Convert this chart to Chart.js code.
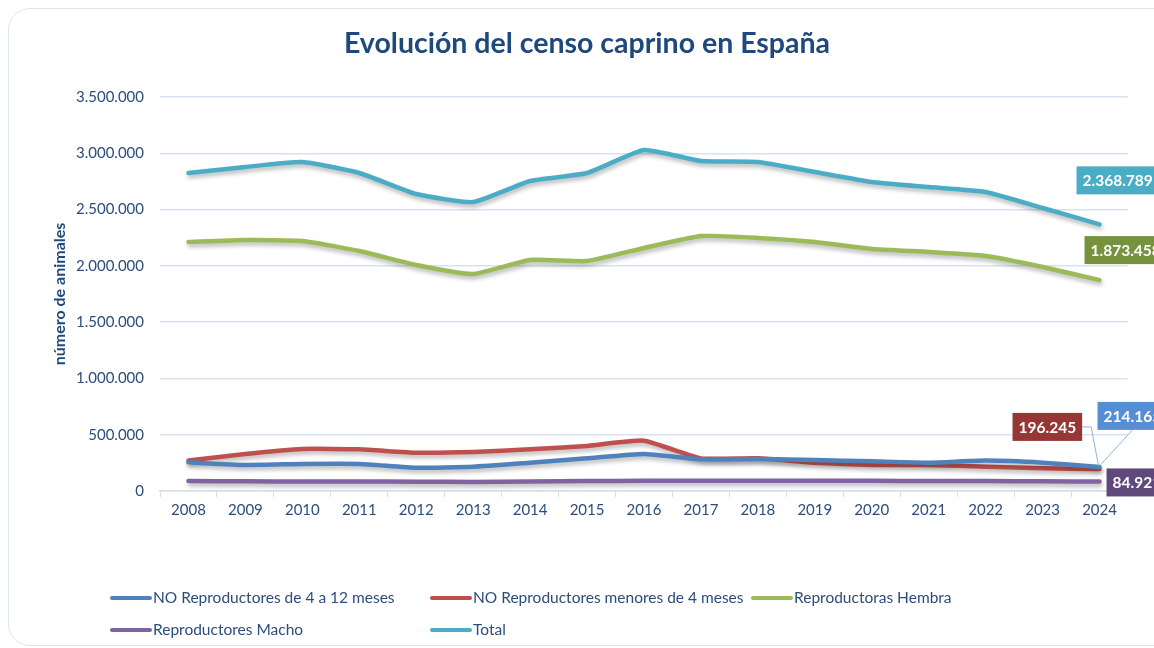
<!DOCTYPE html>
<html>
<head>
<meta charset="utf-8">
<script src="https://cdn.jsdelivr.net/npm/chart.js@4.4.1/dist/chart.umd.min.js"></script>
<style>
  html, body { margin:0; padding:0; background:#fff; overflow:hidden; }
  #wrap { position:relative; width:1154px; height:648px; }
  #card { position:absolute; left:8px; top:8px; width:1170px; height:638px; border:1.5px solid #DCE6F2; border-radius:22px; box-sizing:border-box; }
  canvas { position:absolute; left:0; top:0; }
  .lg { position:absolute; font-family:Lato, "Liberation Sans", sans-serif; font-size:15.5px; color:#2C4D7C; white-space:nowrap; line-height:18px; }
  .lg i { display:inline-block; width:42px; height:4px; border-radius:2px; vertical-align:middle; margin-right:1px; position:relative; top:-1px; }
</style>
</head>
<body>
<div id="wrap">
  <div id="card"></div>
  <canvas id="c" width="1154" height="648"></canvas>
  <div id="legend"></div>
</div>
<script>
const years = ['2008','2009','2010','2011','2012','2013','2014','2015','2016','2017','2018','2019','2020','2021','2022','2023','2024'];
const noRep4a12 = [255000,231000,240000,240000,207000,216000,252000,290000,329000,281000,284000,275000,264000,252000,270000,252000,214165];
const noRepMenores4 = [270000,329000,373000,370000,340000,346000,370000,400000,447000,290000,290000,252000,231000,231000,216000,201000,196245];
const reprodHembra = [2212000,2230000,2221000,2132000,2008000,1928000,2052000,2043000,2159000,2265000,2248000,2212000,2150000,2123000,2088000,1990000,1873458];
const reprodMacho = [88000,86000,85000,85000,83000,81000,85000,88000,90000,92000,92000,91000,90000,89000,88000,86000,84921];
const total = [2825000,2878000,2922000,2825000,2638000,2567000,2754000,2825000,3029000,2931000,2922000,2834000,2745000,2700000,2656000,2514000,2368789];
const seriesNames = ['NO Reproductores de 4 a 12 meses','NO Reproductores menores de 4 meses','Reproductoras Hembra','Reproductores Macho','Total'];
const titleText = 'Evolución del censo caprino en España';
const yTitle = 'número de animales';

const colors = ['#4F81BD','#C0504D','#9BBB59','#8064A2','#4BACC6'];
const labelBg = ['#558ED5','#953735','#76923C','#5F497A','#4BACC6'];

function fmt(v){ return String(Math.round(v)).replace(/\B(?=(\d{3})+(?!\d))/g,'.'); }

const seriesData = [noRep4a12, noRepMenores4, reprodHembra, reprodMacho, total];
const datasets = seriesData.map((d,i)=>({
  label: seriesNames[i], data: d, borderColor: colors[i], backgroundColor: colors[i],
  borderWidth: 4.5, pointRadius: 0, tension: 0.15, fill:false, borderCapStyle:'round', borderJoinStyle:'round'
}));

const labelCfg = [
  {i:0, dx:-2, top:-65, leader:'blue'},
  {i:1, dx:-87, top:-56, leader:'red'},
  {i:2, dx:-15, top:-44},
  {i:3, dx:7, top:-13},
  {i:4, dx:-23, top:-58}
];

const shadowPlugin = {
  id:'shadow',
  beforeDatasetDraw(chart){ const c=chart.ctx; c.save(); c.shadowColor='rgba(0,0,0,0.28)'; c.shadowBlur=4; c.shadowOffsetX=1; c.shadowOffsetY=3; },
  afterDatasetDraw(chart){ chart.ctx.restore(); }
};

const decoPlugin = {
  id:'deco',
  afterDraw(chart){
    const c = chart.ctx;
    c.save();
    c.fillStyle = '#1F497D';
    c.font = 'bold 28.5px Lato, "Liberation Sans", sans-serif';
    c.textAlign = 'center'; c.textBaseline = 'middle';
    c.fillText(titleText, 587, 44);
    c.save();
    c.translate(60, 294); c.rotate(-Math.PI/2);
    c.font = 'bold 16px Lato, "Liberation Sans", sans-serif';
    c.fillText(yTitle, 0, 0);
    c.restore();
    const xs = chart.scales.x, ys = chart.scales.y;
    const last = years.length-1;
    c.font = 'bold 15.5px Lato, "Liberation Sans", sans-serif';
    c.textAlign = 'left'; c.textBaseline='middle';
    labelCfg.forEach(l=>{
      const v = seriesData[l.i][last];
      const px = xs.getPixelForValue(last), py = ys.getPixelForValue(v);
      const txt = fmt(v);
      const w = c.measureText(txt).width + 12, h = 28;
      const bx = px + l.dx, by = py + l.top;
      if (l.leader==='red'){
        c.strokeStyle = '#8DB4E2'; c.lineWidth = 1;
        c.beginPath(); c.moveTo(bx+w, by+h/2); c.lineTo(bx+w+9, by+h/2); c.lineTo(px-1, py-3); c.stroke();
      }
      if (l.leader==='blue'){
        c.strokeStyle = '#8DB4E2'; c.lineWidth = 1;
        c.beginPath(); c.moveTo(bx+35, by+h); c.lineTo(px+1, py-2); c.stroke();
      }
      c.fillStyle = labelBg[l.i];
      c.fillRect(bx, by, w, h);
      c.fillStyle = '#fff';
      c.fillText(txt, bx+6, by+h/2+1);
    });
    c.restore();
  }
};

const tickColor = '#2C4D7C';
new Chart(document.getElementById('c'), {
  type:'line',
  data:{ labels: years, datasets },
  options:{
    responsive:false, animation:false,
    layout:{ padding:{ left:0, right:26, top:97, bottom:100 } },
    plugins:{ legend:{display:false}, title:{display:false}, tooltip:{enabled:false} },
    scales:{
      x:{
        offset:true,
        grid:{ offset:true, drawOnChartArea:false, drawTicks:true, tickLength:6, color:'#D6DFEC' },
        border:{ display:true, color:'#D6DFEC', width:1.5 },
        ticks:{ color:tickColor, font:{ family:'Lato, "Liberation Sans", sans-serif', size:15 }, padding:4, maxRotation:0 },
        afterFit(s){ s.height = 57; }
      },
      y:{
        min:0, max:3500000,
        ticks:{ stepSize:500000, color:tickColor, font:{ family:'Lato, "Liberation Sans", sans-serif', size:15 }, padding:16, callback:v=>fmt(v) },
        grid:{ color:'#D9E1F2', lineWidth:1.5, drawTicks:false },
        border:{ display:false },
        afterFit(s){ s.width = 160; }
      }
    }
  },
  plugins:[shadowPlugin, decoPlugin]
});

const lgPos = [[110,588],[430,588],[751,588],[110,620],[430,620]];
const lg = document.getElementById('legend');
seriesNames.forEach((n,i)=>{
  const d = document.createElement('div');
  d.className='lg'; d.style.left=lgPos[i][0]+'px'; d.style.top=lgPos[i][1]+'px';
  const sw = document.createElement('i'); sw.style.background = colors[i];
  d.appendChild(sw); d.appendChild(document.createTextNode(n));
  lg.appendChild(d);
});
</script>
</body>
</html>
